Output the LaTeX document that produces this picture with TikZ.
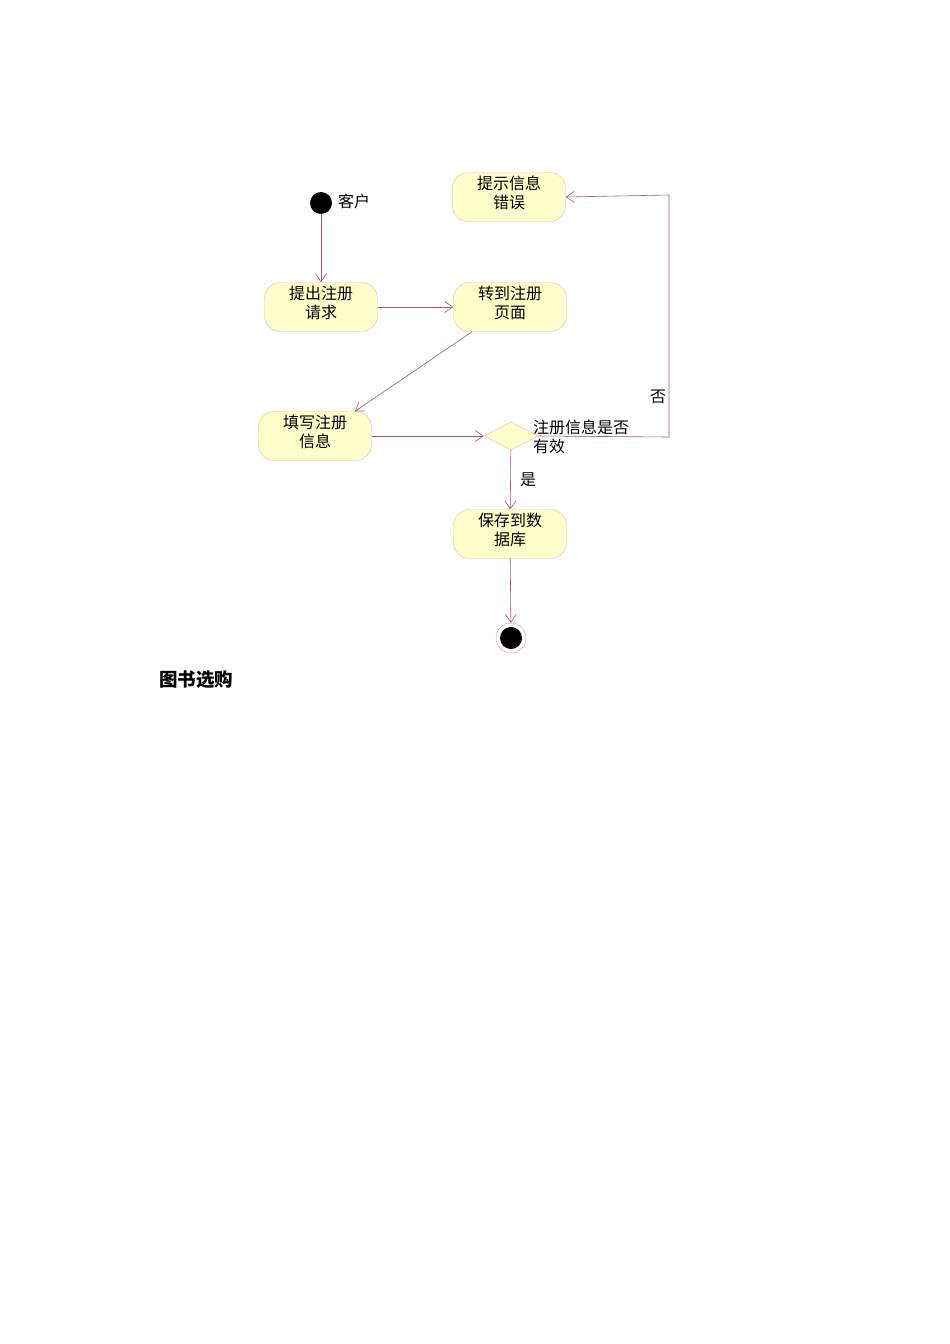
\documentclass[tikz,border=0pt]{standalone}
\usepackage{fontspec}
\usepackage{tikz}
\usetikzlibrary{shapes.geometric,arrows.meta}
\newfontfamily\cjk{Noto Sans CJK SC}
\definecolor{flowline}{RGB}{165,85,125}
\definecolor{actfill}{RGB}{255,255,204}
\definecolor{actedge}{RGB}{215,195,160}

\begin{document}
\begin{tikzpicture}[x=1pt,y=-1pt,
		act/.style={draw=actedge,fill=actfill,rounded corners=16pt,minimum width=113pt,minimum height=49pt,align=center,font=\cjk\fontsize{16}{19}\selectfont,inner sep=0pt,text height=33pt,text depth=10pt},
		flow/.style={draw=flowline,line width=0.6pt,-{Straight Barb[length=8pt,width=11pt,line width=0.6pt]}},
		lbl/.style={font=\cjk\fontsize{16}{19}\selectfont,inner sep=0pt}]
			\useasboundingbox (0,0) rectangle (950,1344);
			
			% states
			\node[circle,fill=black,minimum size=22pt,inner sep=0pt] (start) at (321,203) {};
			\node[lbl,anchor=west] (who) at (338,201) {客户};
			\node[act] (ask) at (321,307) {提出注册\\请求};
			\node[act] (page) at (510,307) {转到注册\\页面};
			\node[act] (err) at (509,197) {提示信息\\错误};
			\node[act] (fill) at (315,436) {填写注册\\信息};
			\node[diamond,draw=actedge,fill=actfill,minimum width=54pt,minimum height=28pt,inner sep=0pt] (check) at (511,436) {};
			\node[lbl,anchor=west,align=left] (cond) at (533,437) {注册信息是否\\有效};
			\node[act] (save) at (510,534) {保存到数\\据库};
			\node[circle,draw=flowline!50,line width=0.5pt,fill=white,minimum size=30pt,inner sep=0pt] (stop) at (511,638) {};
			\node[circle,fill=black,minimum size=22pt,inner sep=0pt] at (stop) {};
			
			% flows
			\draw[flow] (start) -- (ask);
			\draw[flow] (ask) -- (page);
			\draw[flow] ([xshift=-38pt]page.south) -- ([xshift=40pt]fill.north);
			\draw[flow] (fill) -- (check);
			\coordinate (c1) at (669,437);
			\coordinate (c2) at (669,195);
			\draw[flow] (check.east) -- (c1) -- (c2) -- (err.east);
			\draw[flow] (check) -- (save);
			\draw[flow] (save) -- (stop);
			\node[lbl] (no) at (658,397) {否};
			\node[lbl] (yes) at (528,480) {是};
			
			\node[font=\cjk\bfseries\fontsize{18.5}{22}\selectfont,anchor=west,inner sep=0pt] (title) at (159,680) {图书选购};
\end{tikzpicture}
\end{document}
